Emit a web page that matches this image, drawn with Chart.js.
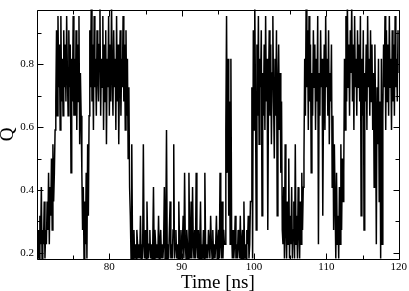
<!DOCTYPE html>
<html>
<head>
<meta charset="utf-8">
<script src="https://cdn.jsdelivr.net/npm/chart.js@4"></script>
<style>
  html, body { margin: 0; padding: 0; background: #fff; }
  #qChart { display: block; }
</style>
</head>
<body>
<canvas id="qChart" width="409" height="291"></canvas>
<script>
// Q comes in steps of 1/22, so the trace is stored as level numbers (Q = level / 22)
// one sample every 0.1 ns, split into the folded / unfolded stretches of the run
const segmentStart = [70.0, 71.5, 72.6, 75.2, 77.2, 82.9, 96.0, 97.0, 99.6, 104.0, 106.9, 111.2, 112.4];
const sampleStep = 0.1;

const lowStart = [5,4,6,4,7,5,9,4,6,5,8,4,6,5,8];
const rise1 = [6,10,5,9,7,11,6,12,8,10,13];
const fold1 = [15,20,14,21,16,19,13,21,15,18, 14,20,16,19,15,21,17,14,20,16, 19,10,18,15,21,14];
const dip1 = [18,14,20,13,19,15,21,12,17,14, 10,6,9,4,8,5,10,4,12,7];
const fold2 = [14,20,16,22,15,19,13,21,16,18, 14,20,17,15,19,22,14,18,16,21, 13,19,15,20,12,18,16,21,14,19,
               15,22,17,14,20,16,18,13,21,15, 19,12,17,20,14,18,16,21,15,19, 13,20,14,18,11,16,9];
const unfold1 = [7,4,12,5,4,6,4,5,4,6, 5,4,5,4,7,4,5,4,12,5, 4,6,4,8,5,4,5,6,4,5, 4,5,9,4,6,5,4,5,4,7,
                 4,5,6,4,5,4,5,9,4,6, 13,4,5,4,6,8,4,5,4,6, 12,4,5,6,4,5,4,8,5,4, 6,4,5,7,4,10,5,4,6,5,
                 4,10,5,4,8,4,9,5,4,6, 4,10,5,4,6,4,5,8,4,5, 4,6,4,10,5,4,5,4,6,5, 4,7,5,4,6,4,5,4,5,7,
                 4,5,6,4,10,5,4,8,4,6, 5];
const spike1 = [5,13,21,10,18,7,15,5,18,6];
const unfold2 = [4,6,4,5,7,4,5,4,6,5, 4,7,4,5,6,4,8,4,5,4, 6,5,7,4,5,8];
const fold3 = [8,16,4,20,13,22,15,6,19,14, 21,12,18,16,20,7,17,14,19,13, 21,15,18,6,16,20,14,19,12,17,
               21,15,11,18,14,20,7,16,19,13, 17,10,15,6];
const unfold3 = [5,9,4,12,6,4,8,5,11,4, 7,5,9,4,6,8,4,12,5,7, 4,9,6,4,8,5,10,6,9];
const fold4 = [11,18,14,22,16,20,13,21,15,19, 10,17,14,20,16,19,13,18,15,21, 5,17,14,20,16,18,7,15,19,13,
               21,16,18,14,20,12,17,15,19,9, 14,6,12];
const dip2 = [8,4,10,5,7,4,9,5,12,6,11,8];
const fold5 = [10,18,13,21,15,22,16,19,14,20, 17,22,15,19,13,21,16,18,14,20, 16,19,15,21,7,18,14,20,6,17,
               15,19,13,21,16,18,14,20,15,19, 13,17,9,19,14,5,16,12,18,8, 15,4,18,5,14,19,16,21,13,20,
               15,19,14,21,16,18,13,20,15,19, 14,21,16,18,15,20,17];

const segments = [lowStart, rise1, fold1, dip1, fold2, unfold1, spike1, unfold2, fold3, unfold3, fold4, dip2, fold5];

const xMajorTicks = [70, 80, 90, 100, 110, 120];
const xMinorTicks = [75, 85, 95, 105, 115];
const yMajorTicks = [0.2, 0.4, 0.6, 0.8];
const yMinorTicks = [0.3, 0.5, 0.7, 0.9];

const points = [];
segments.forEach((levels, s) => {
    levels.forEach((lv, i) => {
        points.push({ x: segmentStart[s] + i * sampleStep, y: lv / 22 });
    });
});

const serif = "'Liberation Serif', 'DejaVu Serif', serif";

// xmgrace style frame: box round the plot, inward ticks on all four sides
const frameTicks = {
    id: 'frameTicks',
    afterDraw(chart) {
        const { ctx, chartArea: a, scales: { x, y } } = chart;
        ctx.save();
        ctx.strokeStyle = '#000';
        ctx.lineWidth = 1;
        ctx.beginPath();
        const L = Math.round(a.left) + 0.5, R = Math.round(a.right) + 0.5;
        const T = Math.round(a.top) + 0.5, B = Math.round(a.bottom) + 0.5;
        ctx.rect(L, T, R - L, B - T);
        const xt = (v, len) => {
            const px = Math.round(x.getPixelForValue(v)) + 0.5;
            ctx.moveTo(px, B); ctx.lineTo(px, B - len);
            ctx.moveTo(px, T); ctx.lineTo(px, T + len);
        };
        const yt = (v, len) => {
            const py = Math.round(y.getPixelForValue(v)) + 0.5;
            ctx.moveTo(L, py); ctx.lineTo(L + len, py);
            ctx.moveTo(R, py); ctx.lineTo(R - len, py);
        };
        xMajorTicks.forEach(v => xt(v, 6));
        xMinorTicks.forEach(v => xt(v, 4));
        yMajorTicks.forEach(v => yt(v, 6));
        yMinorTicks.forEach(v => yt(v, 4));
        ctx.stroke();
        ctx.restore();
    }
};

new Chart(document.getElementById('qChart'), {
    type: 'line',
    data: { datasets: [{ data: points, borderColor: '#000', borderWidth: 1.5, pointRadius: 0, tension: 0, fill: false }] },
    options: {
        responsive: false,
        animation: false,
        devicePixelRatio: 1,
        layout: { padding: { top: 5, right: 9, left: 0, bottom: 0 } },
        plugins: { legend: { display: false }, tooltip: { enabled: false } },
        scales: {
            x: {
                type: 'linear', min: 70, max: 120,
                afterBuildTicks: s => { s.ticks = xMajorTicks.filter(v => v > 70).map(v => ({ value: v })); },
                afterFit: s => { s.height = 32; },
                grid: { display: false, drawTicks: false },
                border: { display: false },
                ticks: { color: '#000', font: { family: serif, size: 11 }, padding: 2, maxRotation: 0, callback: v => String(v) },
                title: { display: true, text: 'Time [ns]', color: '#000', font: { family: serif, size: 19, lineHeight: 0.85 }, padding: 0 }
            },
            y: {
                type: 'linear', min: 0.18, max: 0.975,
                afterBuildTicks: s => { s.ticks = yMajorTicks.map(v => ({ value: v })); },
                afterFit: s => { s.width = 37; },
                grid: { display: false, drawTicks: false },
                border: { display: false },
                ticks: { color: '#000', font: { family: serif, size: 11 }, padding: 3, callback: v => v.toFixed(1) },
                title: { display: true, text: 'Q', color: '#000', font: { family: serif, size: 19, lineHeight: 0.8 }, padding: 0 }
            }
        }
    },
    plugins: [frameTicks]
});
</script>
</body>
</html>
